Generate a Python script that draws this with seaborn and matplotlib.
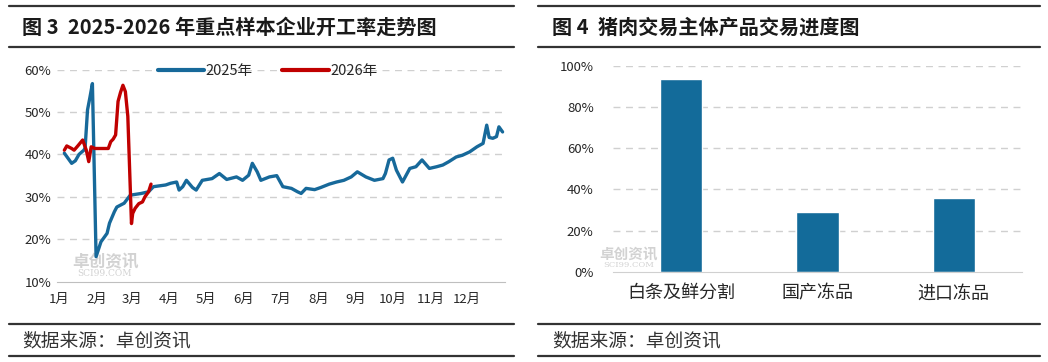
import pandas as pd
import seaborn as sns
import matplotlib.pyplot as plt
from matplotlib.lines import Line2D

# 图3 开工率 (%)
dates_2025 = ['2025-01-05', '2025-01-11', '2025-01-14', '2025-01-17', '2025-01-21', '2025-01-22',
              '2025-01-24', '2025-01-26', '2025-01-28', '2025-01-31', '2025-02-04', '2025-02-09',
              '2025-02-11', '2025-02-15', '2025-02-17', '2025-02-23', '2025-02-28', '2025-03-09',
              '2025-03-15', '2025-03-19', '2025-03-24', '2025-03-29', '2025-04-02', '2025-04-07',
              '2025-04-09', '2025-04-12', '2025-04-15', '2025-04-20', '2025-04-23', '2025-04-28',
              '2025-05-06', '2025-05-12', '2025-05-18', '2025-05-26', '2025-05-31', '2025-06-05',
              '2025-06-08', '2025-06-12', '2025-06-15', '2025-06-22', '2025-06-28', '2025-07-03',
              '2025-07-10', '2025-07-15', '2025-07-18', '2025-07-22', '2025-07-29', '2025-08-03',
              '2025-08-10', '2025-08-16', '2025-08-22', '2025-08-28', '2025-09-02', '2025-09-09',
              '2025-09-16', '2025-09-23', '2025-09-25', '2025-09-28', '2025-10-01', '2025-10-04',
              '2025-10-09', '2025-10-15', '2025-10-20', '2025-10-25', '2025-10-31', '2025-11-06',
              '2025-11-11', '2025-11-16', '2025-11-22', '2025-11-27', '2025-12-03', '2025-12-09',
              '2025-12-14', '2025-12-17', '2025-12-19', '2025-12-22', '2025-12-25', '2025-12-27',
              '2025-12-30']
rate_2025 = [40.3, 37.9, 38.5, 40.0, 41.0, 41.5,
             50.5, 53.5, 56.7, 15.9, 19.4, 21.4,
             23.8, 26.5, 27.6, 28.5, 30.4, 30.8,
             31.2, 32.4, 32.6, 32.8, 33.2, 33.5,
             31.6, 32.4, 33.9, 32.2, 31.6, 33.9,
             34.3, 35.5, 34.1, 34.7, 33.9, 35.1,
             37.9, 35.9, 33.9, 34.7, 35.0, 32.4,
             32.0, 31.2, 30.8, 32.0, 31.7, 32.2,
             33.0, 33.5, 33.9, 34.7, 35.9, 34.7,
             33.9, 34.3, 35.5, 38.7, 39.1, 36.3,
             33.5, 36.7, 37.1, 38.7, 36.7, 37.1,
             37.5, 38.3, 39.4, 39.8, 40.6, 41.8,
             42.6, 46.9, 44.0, 43.8, 44.2, 46.5,
             45.3]

dates_2026 = ['2026-01-05', '2026-01-07', '2026-01-11', '2026-01-13', '2026-01-16', '2026-01-20',
              '2026-01-23', '2026-01-25', '2026-01-27', '2026-01-30', '2026-02-06', '2026-02-10',
              '2026-02-12', '2026-02-14', '2026-02-16', '2026-02-18', '2026-02-20', '2026-02-22',
              '2026-02-24', '2026-02-26', '2026-03-01', '2026-03-02', '2026-03-04', '2026-03-07',
              '2026-03-10', '2026-03-12', '2026-03-15', '2026-03-17']
rate_2026 = [41.0, 42.0, 41.4, 41.0, 42.0, 43.4,
             41.0, 38.3, 41.8, 41.4, 41.4, 41.4,
             43.0, 43.6, 44.6, 52.5, 54.6, 56.3,
             54.8, 49.0, 23.7, 26.1, 27.3, 28.4,
             28.8, 30.0, 31.2, 33.0]

months = ['1月', '2月', '3月', '4月', '5月', '6月', '7月', '8月', '9月', '10月', '11月', '12月']

# 图4 交易进度
categories = ['白条及鲜分割', '国产冻品', '进口冻品']
progress = [93.4, 29.1, 35.9]

BLUE = '#17699A'
RED = '#C00000'
BAR = '#136B9A'
GRID = '#D0D0D0'
TXT = '#262626'
WM = '#D2D2D2'

sns.set_style('white')
plt.rcParams['font.family'] = ['Noto Sans CJK SC', 'DejaVu Sans']
plt.rcParams['axes.unicode_minus'] = False

df25 = pd.DataFrame({'date': pd.to_datetime(dates_2025), 'rate': rate_2025})
df25['doy'] = df25['date'].dt.dayofyear - 1
df26 = pd.DataFrame({'date': pd.to_datetime(dates_2026), 'rate': rate_2026})
df26['doy'] = df26['date'].dt.dayofyear - 1

fig = plt.figure(figsize=(10.48, 3.62), dpi=100)

# ---- left panel ----
ax1 = fig.add_axes([0.0544, 0.2218, 0.4275, 0.586])
sns.lineplot(data=df25, x='doy', y='rate', color=BLUE, lw=2.4, ax=ax1)
sns.lineplot(data=df26, x='doy', y='rate', color=RED, lw=2.4, ax=ax1)
ax1.set_xlim(-2, 365)
ax1.set_ylim(10, 60)
ax1.set_yticks([10, 20, 30, 40, 50, 60])
ax1.set_yticklabels([f'{v}%' for v in [10, 20, 30, 40, 50, 60]], fontsize=9.5, color=TXT)
month_starts = pd.date_range('2025-01-01', '2025-12-01', freq='MS').dayofyear - 1
ax1.set_xticks(list(month_starts) + [365])
ax1.set_xticklabels(months + [''], fontsize=9.5, color=TXT)
ax1.tick_params(axis='x', length=4, color='#BFBFBF', pad=4)
ax1.tick_params(axis='y', length=0, pad=4)
for v in [20, 30, 40, 50, 60]:
    ax1.axhline(v, color=GRID, lw=1, ls=(0, (5, 4)), zorder=0)
for s in ['top', 'right', 'left']:
    ax1.spines[s].set_visible(False)
ax1.spines['bottom'].set_color('#BFBFBF')
ax1.set_xlabel('')
ax1.set_ylabel('')
handles = [Line2D([], [], color=BLUE, lw=3), Line2D([], [], color=RED, lw=3)]
ax1.legend(handles, ['2025年', '2026年'], loc='center', bbox_to_anchor=(0.47, 0.995), ncol=2,
           frameon=False, fontsize=10.5, handlelength=3.2, handletextpad=0.1, columnspacing=2.0,
           labelcolor=TXT)
ax1.text(0.035, 0.07, '卓创资讯', transform=ax1.transAxes, fontsize=12, color=WM,
         fontweight='bold', zorder=0)
ax1.text(0.045, 0.025, 'SCI99.COM', transform=ax1.transAxes, fontsize=6.5, color=WM,
         family='DejaVu Serif', zorder=0)

# ---- right panel ----
ax2 = fig.add_axes([0.585, 0.2494, 0.390, 0.569])
sns.barplot(x=categories, y=progress, color=BAR, width=0.31, saturation=1, ax=ax2)
ax2.set_xlim(-0.5, 2.5)
ax2.set_ylim(0, 100)
ax2.set_yticks(range(0, 101, 20))
ax2.set_yticklabels([f'{v}%' for v in range(0, 101, 20)], fontsize=9.5, color=TXT)
ax2.tick_params(axis='y', length=0, pad=14)
ax2.tick_params(axis='x', length=0, pad=9, labelsize=13, labelcolor=TXT)
for v in range(20, 101, 20):
    ax2.axhline(v, color=GRID, lw=1, ls=(0, (5, 4)), zorder=0)
for s in ['top', 'right', 'left']:
    ax2.spines[s].set_visible(False)
ax2.spines['bottom'].set_color('#D0D0D0')
ax2.set_xlabel('')
ax2.set_ylabel('')
ax2.text(-0.035, 0.065, '卓创资讯', transform=ax2.transAxes, fontsize=10.5, color=WM,
         fontweight='bold', zorder=0)
ax2.text(-0.025, 0.025, 'SCI99.COM', transform=ax2.transAxes, fontsize=6, color=WM,
         family='DejaVu Serif', zorder=0)

# ---- frame: titles, rules, source ----
def rule(x0, x1, y, lw):
    fig.add_artist(Line2D([x0 / 1048, x1 / 1048], [1 - y / 362, 1 - y / 362], color='#333333', lw=lw))

for x0, x1 in [(9, 514), (538, 1040)]:
    rule(x0, x1, 6, 1.6)
    rule(x0, x1, 47, 1.6)
    rule(x0, x1, 324, 1.6)
    rule(x0, x1, 356, 1.6)

fig.text(22 / 1048, 1 - 27 / 362, '图 3  2025-2026 年重点样本企业开工率走势图', fontsize=14.5,
         fontweight='bold', color='#1A1A1A', va='center')
fig.text(552 / 1048, 1 - 27 / 362, '图 4  猪肉交易主体产品交易进度图', fontsize=14.5,
         fontweight='bold', color='#1A1A1A', va='center')
fig.text(22 / 1048, 1 - 341 / 362, '数据来源：卓创资讯', fontsize=13.5, color='#333333', va='center')
fig.text(552 / 1048, 1 - 341 / 362, '数据来源：卓创资讯', fontsize=13.5, color='#333333', va='center')

fig.savefig('out.png', dpi=100)
